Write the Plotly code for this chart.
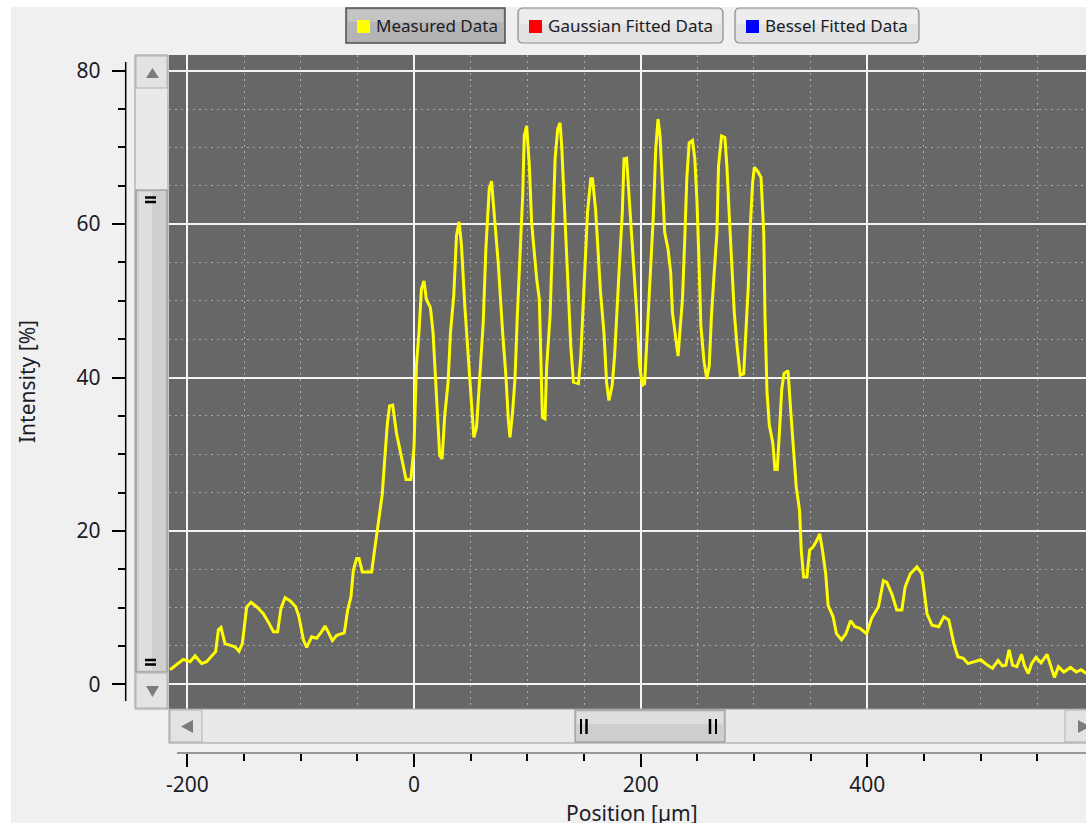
import plotly.graph_objects as go

# ---------------- data ----------------
position_um = [
    -215.3, -208, -203.5, -197.6, -193.2, -187.4, -183, -178.5, -175, -172.6,
    -170.3, -166.8, -162.4, -158, -154.4, -151.5, -147.6, -143.8, -138.8, -132.9,
    -128.5, -124, -120.3, -117.4, -113.8, -109.4, -104.4, -101.5, -97.6, -94.7,
    -90.3, -85.9, -81.5, -78.5, -75, -72, -68.2, -61.5, -58.5, -55.6,
    -53.5, -50.6, -48.5, -45.6, -37.4, -34.4, -31.5, -28, -25.5, -23.5,
    -21.5, -18.8, -15.5, -11, -7, -2.8, 0, 2.1, 4.4, 6.5,
    8.8, 10.9, 14.5, 16.8, 18.3, 20.4, 22.7, 24.8, 27.1, 30.1,
    32.2, 35.1, 37.5, 39.8, 41.9, 44.8, 47.8, 49.9, 52.8, 55.2,
    58.1, 61.1, 63.4, 66.4, 68.4, 71.4, 74.3, 78.2, 81.1, 83.2,
    84.7, 87.0, 89.1, 91.2, 93.5, 95.9, 97.3, 99.4, 101.8, 103.8,
    105.9, 108.3, 110.6, 111.8, 113.3, 115.6, 117.1, 120.1, 122.4, 124.5,
    126.8, 128.9, 130.4, 131.9, 134.2, 136.3, 138.3, 140.7, 145.1, 147.2,
    150.1, 153.1, 156.0, 157.5, 160.2, 162.2, 164.6, 167.6, 169.9, 172.0,
    174.9, 177.0, 179.4, 181.7, 183.8, 185.3, 187.6, 189.7, 191.7, 194.1,
    196.5, 199.1, 201.5, 203.5, 205.9, 208.8, 211.2, 213.3, 215.3, 217.1,
    219.2, 221.2, 224.2, 226.5, 228.0, 231.0, 233.0, 234.8, 236.9, 238.9,
    240.7, 242.8, 245.7, 247.8, 249.6, 251.6, 253.1, 256.0, 258.4, 260.5,
    262.5, 264.9, 267.3, 268.7, 271.4, 274.3, 276.1, 278.2, 280.2, 282.6,
    285.0, 287.9, 290.9, 292.9, 295.0, 296.8, 298.8, 300.3, 303.2, 306.2,
    308.6, 309.7, 311.5, 313.5, 316.6, 318.5, 320.5, 322.5, 324.5, 326.5,
    330.0, 332.5, 335.0, 337.3, 340.2, 341.7, 343.8, 346.7, 349.1, 352.1,
    355.6, 358.0, 360.4, 363.3, 365.4, 369.8, 372.8, 377.2, 381.1, 385.2,
    389.1, 393.5, 399.4, 403.8, 409.8, 414.2, 417.2, 421.6, 426.0, 430.5,
    433.4, 437.9, 443.8, 448.2, 452.7, 457.1, 463.0, 467.5, 471.9, 476.3,
    479.9, 484.6, 488.8, 494.1, 500.0, 505.9, 510.4, 515.4, 519.2, 522.2,
    525.1, 528.1, 531.9, 536.1, 538.5, 542.0, 545.0, 548.8, 553.3, 558.6,
    562.1, 565.1, 568.6, 573.4, 579.3, 584.3, 588.8, 593.2,
]
intensity_pct = [
    1.9, 2.7, 3.25, 2.95, 3.7, 2.7, 2.95, 3.7, 4.25, 7.1,
    7.4, 5.3, 5.1, 4.9, 4.3, 5.3, 10.1, 10.7, 10.1, 9.2,
    8.1, 6.85, 6.85, 9.9, 11.3, 10.9, 10.1, 8.8, 5.8, 4.8,
    6.2, 6.0, 6.85, 7.6, 6.6, 5.7, 6.4, 6.7, 9.7, 11.4,
    14.9, 16.4, 16.4, 14.65, 14.65, 17.9, 20.5, 24.8, 30.0, 34.0,
    36.3, 36.4, 32.8, 29.5, 26.7, 26.7, 30.9, 41.5, 45.9, 51.5,
    52.6, 50.2, 49.1, 45.9, 42.0, 37.2, 29.8, 29.4, 35.0, 39.4,
    45.9, 50.7, 58.5, 60.3, 57.2, 49.4, 42.4, 38.5, 32.2, 33.5,
    39.8, 47.2, 56.7, 64.6, 65.6, 60.0, 55.0, 45.9, 40.2, 34.6,
    32.2, 35.5, 39.8, 48.1, 55.9, 63.7, 71.5, 72.8, 67.6, 60.2,
    56.7, 52.8, 50.2, 41.5, 34.8, 34.6, 41.5, 48.1, 60.2, 68.5,
    72.4, 73.2, 70.0, 65.4, 57.2, 50.2, 44.2, 39.4, 39.2, 42.8,
    52.0, 61.5, 65.9, 65.9, 62.0, 56.7, 51.1, 45.9, 39.4, 37.0,
    39.0, 42.8, 50.2, 55.9, 61.5, 68.5, 68.6, 64.1, 59.3, 54.6,
    48.5, 41.5, 39.0, 39.2, 45.9, 53.7, 61.1, 69.8, 73.7, 71.5,
    65.9, 58.9, 56.7, 53.7, 48.5, 44.6, 42.8, 46.3, 50.2, 58.0,
    65.9, 70.6, 70.9, 68.5, 63.3, 54.6, 46.8, 42.0, 39.8, 41.5,
    48.1, 53.7, 58.9, 67.6, 71.5, 71.3, 67.6, 61.1, 55.9, 48.5,
    44.2, 40.3, 40.5, 45.9, 52.0, 59.8, 65.4, 67.4, 66.9, 66.1,
    58.9, 48.1, 38.1, 33.8, 31.5, 28.0, 28.0, 33.0, 38.5, 40.5,
    40.9, 35.5, 30.9, 25.7, 22.7, 17.5, 14.0, 14.0, 17.5, 17.9,
    18.8, 19.6, 17.5, 14.4, 10.3, 8.8, 6.6, 5.8, 6.6, 8.3,
    7.5, 7.3, 6.6, 8.6, 10.1, 13.5, 13.3, 11.8, 9.7, 9.7,
    12.7, 14.4, 15.3, 14.4, 9.2, 7.7, 7.5, 8.8, 8.4, 5.3,
    3.6, 3.4, 2.7, 2.9, 3.2, 2.5, 2.1, 3.1, 2.4, 2.5,
    4.5, 2.5, 2.3, 3.9, 2.5, 1.4, 2.7, 3.5, 2.8, 3.9,
    2.1, 0.9, 2.3, 1.6, 2.2, 1.6, 1.9, 1.4,
]
x_tick_vals = [-200, 0, 200, 400]
x_tick_text = ["-200", "0", "200", "400"]
y_tick_vals = [0, 20, 40, 60, 80]
y_tick_text = ["0", "20", "40", "60", "80"]
legend_names = ["Measured Data", "Gaussian Fitted Data", "Bessel Fitted Data"]
legend_colors = ["#ffff00", "#ff0000", "#0000ff"]

# ---------------- layout helpers (pixel -> paper) ----------------
W, H = 1086, 823
FONT = "Noto Sans"
TXT = "#1c1c28"


def px(p):
    return p / W


def py(p):
    return 1 - p / H


def rect(x0, y0, x1, y1, fill, line=None, lw=1):
    return dict(type="rect", xref="paper", yref="paper",
                x0=px(x0), x1=px(x1), y0=py(y1), y1=py(y0),
                fillcolor=fill, line=dict(color=line or fill, width=lw if line else 0))


def seg(x0, y0, x1, y1, color, lw=1):
    return dict(type="line", xref="paper", yref="paper",
                x0=px(x0), x1=px(x1), y0=py(y0), y1=py(y1),
                line=dict(color=color, width=lw))


def poly(points, fill):
    d = "M " + " L ".join(f"{px(a):.5f},{py(b):.5f}" for a, b in points) + " Z"
    return dict(type="path", xref="paper", yref="paper", path=d,
                fillcolor=fill, line=dict(width=0))


def rrect(x0, y0, x1, y1, r, fill, line, lw=1):
    P = lambda a, b: f"{px(a):.5f},{py(b):.5f}"
    d = (f"M {P(x0 + r, y0)} L {P(x1 - r, y0)} Q {P(x1, y0)} {P(x1, y0 + r)} "
         f"L {P(x1, y1 - r)} Q {P(x1, y1)} {P(x1 - r, y1)} "
         f"L {P(x0 + r, y1)} Q {P(x0, y1)} {P(x0, y1 - r)} "
         f"L {P(x0, y0 + r)} Q {P(x0, y0)} {P(x0 + r, y0)} Z")
    return dict(type="path", xref="paper", yref="paper", path=d,
                fillcolor=fill, line=dict(color=line, width=lw))


# plot area in pixels
PL, PR, PT, PB = 169, 1086, 55, 709

fig = go.Figure()
fig.add_trace(go.Scatter(
    x=position_um, y=intensity_pct, mode="lines",
    line=dict(color="#ffff00", width=3), name=legend_names[0],
    showlegend=False, hoverinfo="skip",
))

shapes = []
# white window frame strips
shapes.append(rect(0, 0, W, 7, "#ffffff"))
shapes.append(rect(0, 0, 11, H, "#ffffff"))

# legend buttons
btn = [(346, 505), (518, 723), (735, 919)]
for i, (b0, b1) in enumerate(btn):
    if i == 0:
        shapes.append(rect(b0, 8, b1, 43, "#b4b4b4", "#4e4e4e", 1.5))
        shapes.append(rect(b0 + 2, 10, b1 - 2, 22, "#c4c4c4"))
    else:
        shapes.append(rrect(b0, 8, b1, 43, 5, "#e2e2e2", "#8c8c8c", 1.2))
        shapes.append(rect(b0 + 2, 10, b1 - 2, 24, "#ededed"))
    sq0 = b0 + 11
    shapes.append(rect(sq0, 20, sq0 + 13, 33, legend_colors[i]))

# vertical scrollbar
shapes.append(rect(135, PT, 168, PB, "#e9e9e9", "#9a9a9a", 1))
shapes.append(rect(136, 56, 167, 88, "#e3e3e3", "#b0b0b0", 1))
shapes.append(poly([(146, 78), (159, 78), (152.5, 68)], "#7c7c7c"))
shapes.append(rect(136, 190, 167, 672, "#cfcfcf", "#8a8a8a", 1))
shapes.append(rect(139, 192, 152, 670, "#dedede"))
shapes.append(seg(145, 197.5, 156, 197.5, "#000000", 2.5))
shapes.append(seg(145, 202, 156, 202, "#000000", 2.5))
shapes.append(seg(145, 660, 156, 660, "#000000", 2.5))
shapes.append(seg(145, 664.5, 156, 664.5, "#000000", 2.5))
shapes.append(rect(136, 673, 167, 708, "#e3e3e3", "#b0b0b0", 1))
shapes.append(poly([(146, 686), (159, 686), (152.5, 697)], "#7c7c7c"))

# horizontal scrollbar
shapes.append(rect(PL, PB, W + 2, 743, "#e9e9e9", "#9a9a9a", 1))
shapes.append(rect(170, 710, 202, 742, "#e3e3e3", "#b0b0b0", 1))
shapes.append(poly([(193, 720), (193, 733), (181, 726.5)], "#7c7c7c"))
shapes.append(rect(575, 710, 725, 742, "#cfcfcf", "#8a8a8a", 1))
shapes.append(rect(577, 712, 723, 724, "#dedede"))
shapes.append(seg(581, 719, 581, 734, "#000000", 2))
shapes.append(seg(586.5, 719, 586.5, 734, "#000000", 2.5))
shapes.append(seg(710, 719, 710, 734, "#000000", 2.5))
shapes.append(seg(716, 719, 716, 734, "#000000", 2))
shapes.append(rect(1065, 710, W + 2, 742, "#e3e3e3", "#b0b0b0", 1))
shapes.append(poly([(1078, 720), (1078, 733), (1090, 726.5)], "#7c7c7c"))

# axis lines
shapes.append(seg(125.7, 62, 125.7, 701, "#000000", 1.5))
shapes.append(seg(177, 753, W, 753, "#7a7a7a", 1.5))

annotations = []
for i, (b0, b1) in enumerate(btn):
    annotations.append(dict(
        text=legend_names[i], xref="paper", yref="paper",
        x=px(b0 + 28), y=py(26), xanchor="left", yanchor="middle",
        showarrow=False, font=dict(family=FONT, size=17, color=TXT)))
annotations.append(dict(
    text="Position [µm]", xref="paper", yref="paper",
    x=px(632), y=py(813), xanchor="center", yanchor="middle",
    showarrow=False, font=dict(family=FONT, size=21, color=TXT)))
annotations.append(dict(
    text="Intensity [%]", xref="paper", yref="paper",
    x=px(27), y=py(382), xanchor="center", yanchor="middle", textangle=-90,
    showarrow=False, font=dict(family=FONT, size=21, color=TXT)))

XS = 1.1333   # px per µm
X0 = 414.0    # px of x = 0
YS = 7.67     # px per %
Y0 = 684.3    # px of y = 0

fig.update_layout(
    width=W, height=H, autosize=False,
    margin=dict(l=0, r=0, t=0, b=0, pad=0),
    paper_bgcolor="#f0f0f0", plot_bgcolor="#676767",
    showlegend=False,
    shapes=shapes, annotations=annotations,
    font=dict(family=FONT, size=21, color=TXT),
    xaxis=dict(
        domain=[px(PL), 1.0], anchor="free", position=py(753), side="bottom",
        range=[(PL - X0) / XS, (W - X0) / XS],
        tickmode="array", tickvals=x_tick_vals, ticktext=x_tick_text,
        ticks="outside", ticklen=13, tickwidth=1.5, tickcolor="#000000",
        ticklabelstandoff=0,
        showgrid=True, gridcolor="#f4f4f4", gridwidth=1.5,
        minor=dict(dtick=50, tick0=0, ticks="outside", ticklen=7, tickwidth=1.5,
                   tickcolor="#000000", showgrid=True, gridcolor="#a8a8a8",
                   griddash="2px,4px", gridwidth=1),
        showline=False, zeroline=False, automargin=False,
        tickfont=dict(family=FONT, size=21, color=TXT), fixedrange=True,
    ),
    yaxis=dict(
        domain=[py(PB), py(PT)], anchor="free", position=px(125.7), side="left",
        range=[(Y0 - PB) / YS, (Y0 - PT) / YS],
        tickmode="array", tickvals=y_tick_vals, ticktext=y_tick_text,
        ticks="outside", ticklen=14, tickwidth=1.5, tickcolor="#000000",
        ticklabelstandoff=7,
        showgrid=True, gridcolor="#f4f4f4", gridwidth=1.5,
        minor=dict(dtick=5, tick0=0, ticks="outside", ticklen=8, tickwidth=1.5,
                   tickcolor="#000000", showgrid=True, gridcolor="#a8a8a8",
                   griddash="2px,4px", gridwidth=1),
        showline=False, zeroline=False, automargin=False,
        tickfont=dict(family=FONT, size=21, color=TXT), fixedrange=True,
    ),
)

fig.write_html(
    "out.html",
    config=dict(displayModeBar=False),
    post_script="document.body.style.margin='0';document.body.style.overflow='hidden';",
)
